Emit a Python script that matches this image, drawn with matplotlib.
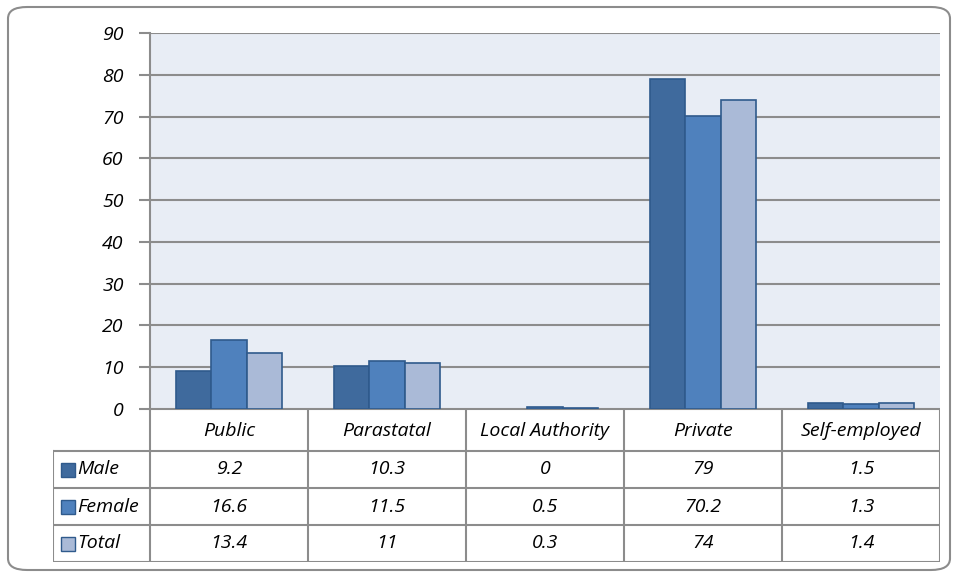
import matplotlib.pyplot as plt
import numpy as np
from matplotlib.patches import FancyBboxPatch

# data
categories = ["Public", "Parastatal", "Local Authority", "Private", "Self-employed"]
series_names = ["Male", "Female", "Total"]
male = [9.2, 10.3, 0, 79, 1.5]
female = [16.6, 11.5, 0.5, 70.2, 1.3]
total = [13.4, 11, 0.3, 74, 1.4]
yticks = [0, 10, 20, 30, 40, 50, 60, 70, 80, 90]

colors = ["#3F6A9D", "#4F81BD", "#AABAD7"]
edge = "#2F5A8C"
grid_c = "#8C8C8C"
W, H = 959, 577
fs = 14

plt.rcParams['font.family'] = ['Open Sans', 'DejaVu Sans']
plt.rcParams['font.style'] = 'italic'

fig = plt.figure(figsize=(W / 100, H / 100), dpi=100)

def px_axes(x0, y0, x1, y1):
    return fig.add_axes([x0 / W, 1 - y1 / H, (x1 - x0) / W, (y1 - y0) / H])

# rounded outer border
fig.patches.append(FancyBboxPatch((8 / W, 7 / H), 942 / W, 563 / H,
                                  boxstyle="round,pad=0,rounding_size=0.02",
                                  transform=fig.transFigure, fill=False,
                                  edgecolor="#8C8C8C", linewidth=1.5))

# ---- plot area
ax = px_axes(150, 33, 940, 409)
ax.set_facecolor("#E8EDF5")
n = len(categories)
x = np.arange(n)
bw = 0.224
for i, vals in enumerate([male, female, total]):
    vals = np.array(vals, dtype=float)
    lws = [1.2 if v > 0 else 0 for v in vals]
    ax.bar(x + (i - 1) * bw, vals, bw, color=colors[i], edgecolor=edge, linewidth=lws, zorder=3)
ax.set_xlim(-0.5, n - 0.5)
ax.set_ylim(0, 90)
ax.set_yticks(yticks)
ax.set_yticklabels([str(v) for v in yticks], fontsize=fs, style='italic')
ax.tick_params(axis='y', length=8, color=grid_c, width=1.5, pad=11)
ax.set_xticks([])
ax.grid(axis='y', color=grid_c, linewidth=1.5, zorder=1)
for s in ["top", "right", "bottom"]:
    ax.spines[s].set_visible(False)
ax.spines["left"].set_color(grid_c)
ax.spines["left"].set_linewidth(1.5)

# ---- data table
tab = px_axes(53, 409, 940, 562)
tab.set_xlim(53, 940)
tab.set_ylim(562, 409)
tab.axis("off")
col_edges = [150 + 158 * k for k in range(n)] + [940]
row_edges = [409, 451, 488, 525, 562]
lw = 1.5
# vertical lines
for cx in col_edges:
    tab.plot([cx, cx], [409, 562], color=grid_c, lw=lw, solid_capstyle='projecting')
tab.plot([53, 53], [451, 562], color=grid_c, lw=lw)
# horizontal lines
tab.plot([150, 940], [409, 409], color=grid_c, lw=lw)
for ry in row_edges[1:]:
    tab.plot([53, 940], [ry, ry], color=grid_c, lw=lw)

for k, c in enumerate(categories):
    cx = (col_edges[k] + col_edges[k + 1]) / 2
    tab.text(cx, 431, c, ha='center', va='center', fontsize=fs, style='italic')
for r, (name, vals) in enumerate(zip(series_names, [male, female, total])):
    cy = (row_edges[r + 1] + row_edges[r + 2]) / 2
    tab.add_patch(plt.Rectangle((61, cy - 7), 14, 14, facecolor=colors[r], edgecolor=edge, lw=1))
    tab.text(77, cy, name, ha='left', va='center', fontsize=fs, style='italic')
    for k, v in enumerate(vals):
        cx = (col_edges[k] + col_edges[k + 1]) / 2
        tab.text(cx, cy, f"{v:g}", ha='center', va='center', fontsize=fs, style='italic')

fig.savefig("out.png", dpi=100)
